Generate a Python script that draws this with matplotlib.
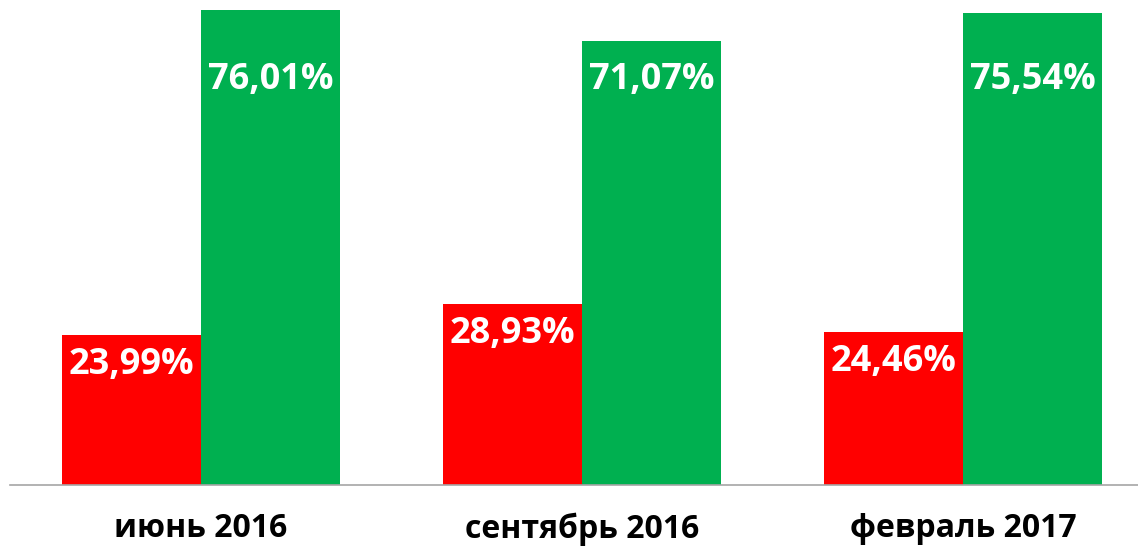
import matplotlib
matplotlib.use("Agg")
from matplotlib import pyplot as plt
import numpy as np

categories = ['июнь 2016', 'сентябрь 2016', 'февраль 2017']
red_vals = [23.99, 28.93, 24.46]
green_vals = [76.01, 71.07, 75.54]

plt.rcParams['font.family'] = ['Open Sans', 'DejaVu Sans']

W, H = 1138, 547
fig = plt.figure(figsize=(W / 100, H / 100), dpi=100)
ax = fig.add_axes([10 / W, 1 - 484.5 / H, 1128 / W, 474.5 / H])

x = np.arange(len(categories))
w = 0.365
ax.bar(x - w / 2, red_vals, w, color='#ff0000')
ax.bar(x + w / 2, green_vals, w, color='#00b050')

def fmt(v):
    return ('%.2f%%' % v).replace('.', ',')

for xi, v in zip(x - w / 2, red_vals):
    ax.text(xi, min(v - 4.9, 64.8), fmt(v), ha='center', va='center',
            color='white', fontsize=26, fontweight='bold')
for xi, v in zip(x + w / 2, green_vals):
    ax.text(xi, min(v - 4.9, 64.8), fmt(v), ha='center', va='center',
            color='white', fontsize=26, fontweight='bold')

ax.set_xlim(-0.501, 2.459)
ax.set_ylim(0, 76.01)
ax.set_xticks(x)
ax.set_xticklabels(categories, fontsize=23, fontweight='bold')
ax.tick_params(axis='x', length=0, pad=20)
ax.set_yticks([])
for s in ['top', 'right', 'left']:
    ax.spines[s].set_visible(False)
ax.spines['bottom'].set_color('#a6a6a6')
ax.spines['bottom'].set_linewidth(1.2)

fig.savefig('out.png', dpi=100)
